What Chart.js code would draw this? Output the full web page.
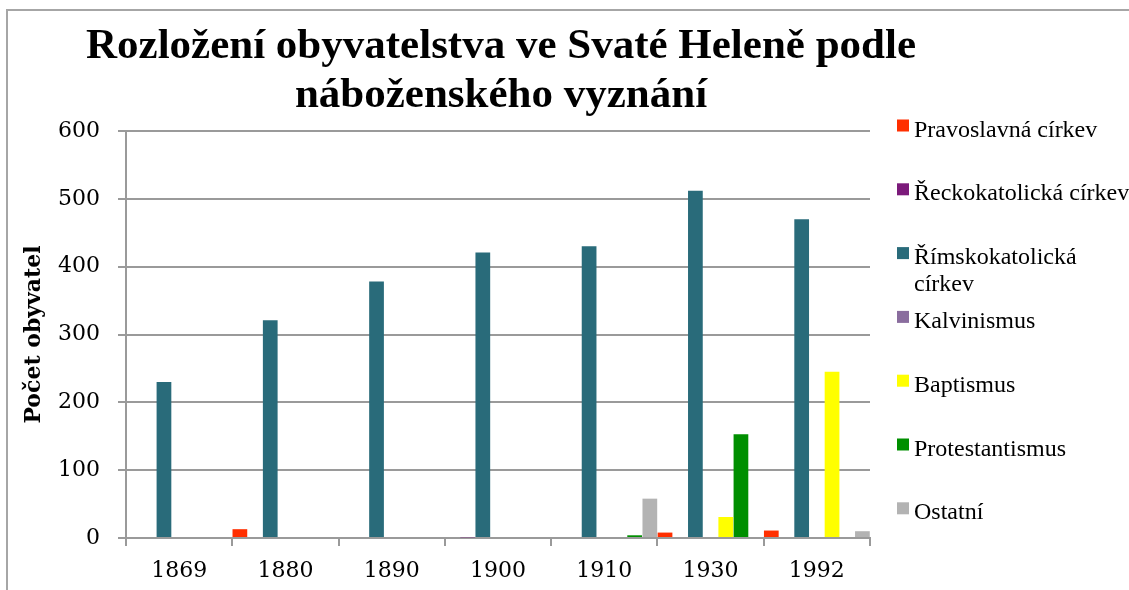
<!DOCTYPE html>
<html>
<head>
<meta charset="utf-8">
<script src="https://cdn.jsdelivr.net/npm/chart.js"></script>
<style>
  body { margin: 0; background: #fff; }
  #wrap { position: relative; width: 1129px; height: 590px; }
  #frame {
    position: absolute; left: 6px; top: 9px; right: 0; bottom: 0;
    border-left: 2px solid #a6a6a6; border-top: 2px solid #a6a6a6;
    pointer-events: none;
  }
  canvas { position: absolute; left: 0; top: 0; }
</style>
</head>
<body>
<div id="wrap">
  <canvas id="chart" width="1129" height="590"></canvas>
  <div id="frame"></div>
</div>
<script>
const years = ['1869', '1880', '1890', '1900', '1910', '1930', '1992'];

const pravoslavna = [0, 13, 0, 0, 0, 8, 11];
const reckokatolicka = [0, 0, 0, 1, 0, 0, 0];
const rimskokatolicka = [230, 321, 378, 421, 430, 512, 470];
const kalvinismus = [0, 0, 0, 0, 0, 0, 0];
const baptismus = [0, 0, 0, 0, 0, 31, 245];
const protestantismus = [0, 0, 0, 0, 4, 153, 0];
const ostatni = [0, 0, 0, 0, 58, 0, 10];

const seriesLabels = [
  'Pravoslavná církev',
  'Řeckokatolická církev',
  'Římskokatolická\ncírkev',
  'Kalvinismus',
  'Baptismus',
  'Protestantismus',
  'Ostatní',
];
const seriesColors = ['#ff2f00', '#7b1a7a', '#296b7a', '#8a6d9e', '#ffff00', '#008f00', '#b3b3b3'];
const seriesData = [pravoslavna, reckokatolicka, rimskokatolicka, kalvinismus, baptismus, protestantismus, ostatni];

const titleLines = ['Rozložení obyvatelstva ve Svaté Heleně podle', 'náboženského vyznání'];

const grey = '#9a9a9a';

// title + legend drawn by hand so they sit where the original has them
const decorations = {
  id: 'decorations',
  afterDraw(chart) {
    const ctx = chart.ctx;
    ctx.save();
    ctx.fillStyle = '#000';
    ctx.textAlign = 'center';
    ctx.textBaseline = 'alphabetic';
    ctx.font = 'bold 43px "Liberation Serif"';
    ctx.fillText(titleLines[0], 501, 58);
    ctx.fillText(titleLines[1], 501, 107);

    ctx.textAlign = 'left';
    ctx.font = '24px "Liberation Serif"';
    chart.data.datasets.forEach((ds, i) => {
      const top = 119.5 + i * 63.8;
      ctx.fillStyle = ds.backgroundColor;
      ctx.fillRect(897, top, 12, 12);
      ctx.fillStyle = '#000';
      ds.label.split('\n').forEach((line, j) => {
        ctx.fillText(line, 914, top + 17 + j * 27);
      });
    });
    ctx.restore();
  }
};

new Chart(document.getElementById('chart'), {
  type: 'bar',
  data: {
    labels: years,
    datasets: seriesData.map((d, i) => ({
      label: seriesLabels[i],
      data: d,
      backgroundColor: seriesColors[i],
      categoryPercentage: 1,
      barPercentage: 0.97,
    })),
  },
  options: {
    responsive: false,
    animation: false,
    devicePixelRatio: 1,
    layout: { padding: { top: 131, right: 259, bottom: 0, left: 0 } },
    plugins: {
      legend: { display: false },
      title: { display: false },
      tooltip: { enabled: false },
    },
    scales: {
      x: {
        afterFit(scale) { scale.height = 52; },
        grid: {
          display: true,
          drawOnChartArea: false,
          drawTicks: true,
          tickLength: 8,
          color: grey,
          lineWidth: 2,
        },
        border: { display: true, color: grey, width: 2 },
        ticks: {
          color: '#000',
          padding: 12,
          font: { family: '"DejaVu Serif"', size: 22 },
        },
      },
      y: {
        min: 0,
        max: 600,
        afterFit(scale) { scale.width = 126; },
        ticks: {
          stepSize: 100,
          color: '#000',
          padding: 18,
          font: { family: '"DejaVu Serif"', size: 22 },
        },
        grid: {
          color: grey,
          lineWidth: 2,
          tickLength: 8,
        },
        border: { display: true, color: grey, width: 2 },
        title: {
          display: true,
          text: 'Počet obyvatel',
          color: '#000',
          padding: { top: 21, bottom: 0 },
          font: { family: '"DejaVu Serif"', size: 22, weight: 'bold' },
        },
      },
    },
  },
  plugins: [decorations],
});
</script>
</body>
</html>
